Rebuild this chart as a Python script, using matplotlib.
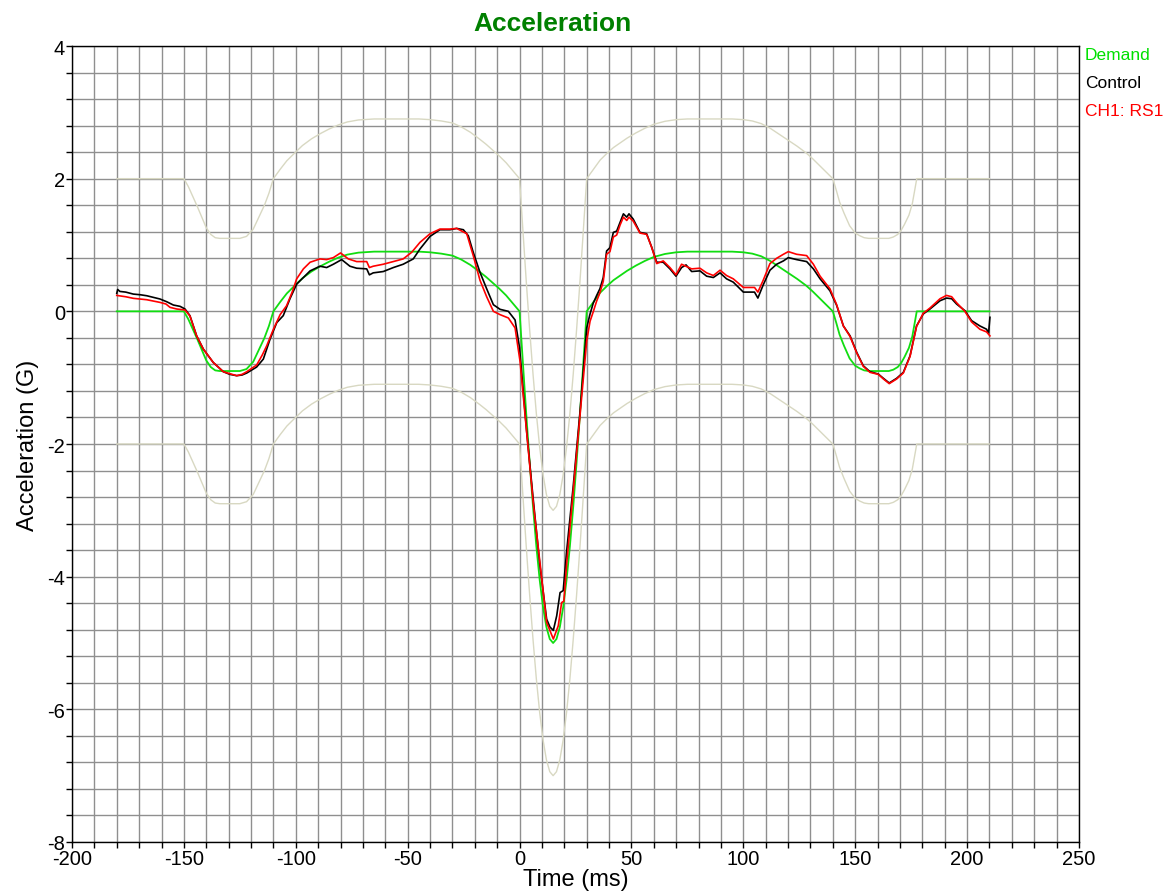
import numpy as np
import matplotlib
matplotlib.use("Agg")
from matplotlib import pyplot as plt

plt.rcParams['font.family'] = ['Liberation Sans', 'DejaVu Sans']
plt.rcParams['axes.unicode_minus'] = False

# demand profile (G)
demand_t = [-180, -150, -148, -146, -144, -142, -140, -138, -136, -134,
            -125, -122, -119, -116.5, -114, -112, -110,
            -107, -104, -101, -97, -93, -89, -85, -81, -77, -72, -65,
            -45, -40, -35, -30, -26, -22, -18, -15, -12, -9, -6, -3, 0,
            1.5, 3, 4.5, 6, 7.5, 9, 10.5, 12, 13.5, 15, 16.5, 18, 19.5, 21,
            22.5, 24, 25.5, 27, 28.5, 30,
            33, 36, 39, 42, 45, 48, 52, 56, 60, 65, 70, 75,
            95, 100, 104, 108, 112, 116, 120, 124, 128, 131, 134, 137, 140,
            141.5, 143, 145, 147.5, 150, 152, 154, 156, 165, 167, 169, 170.5,
            172, 174, 175.5, 177.5, 210]
demand_g = [0, 0, -0.12, -0.27, -0.42, -0.58, -0.74, -0.84, -0.89, -0.9,
            -0.9, -0.87, -0.76, -0.58, -0.40, -0.22, 0.0,
            0.14, 0.27, 0.37, 0.50, 0.60, 0.68, 0.75, 0.81, 0.855, 0.885, 0.9,
            0.9, 0.89, 0.87, 0.84, 0.78, 0.70, 0.60, 0.52, 0.43, 0.34, 0.24, 0.12, 0.0,
            -0.78, -1.55, -2.27, -2.94, -3.54, -4.05, -4.46, -4.76, -4.94, -5.0,
            -4.94, -4.76, -4.46, -4.05, -3.54, -2.94, -2.27, -1.55, -0.78, 0.0,
            0.14, 0.28, 0.38, 0.47, 0.54, 0.61, 0.69, 0.76, 0.82, 0.865, 0.89, 0.9,
            0.9, 0.89, 0.87, 0.83, 0.76, 0.67, 0.58, 0.49, 0.39, 0.30, 0.20, 0.10, 0.0,
            -0.17, -0.35, -0.52, -0.71, -0.82, -0.86, -0.89, -0.9, -0.9, -0.88, -0.84, -0.78,
            -0.69, -0.55, -0.38, 0.0, 0.0]

# abort limits sit a fixed 2 G either side of the demand
TOLERANCE = 2.0

control_t = [-180.0, -179.6, -178.6, -176, -172.6, -169.5, -166.6, -163.5, -160.7, -157.7,
             -154.7, -151.7, -149.5, -147.3, -144.3, -141.3, -136.9, -132.4, -129.5, -126.4,
             -124, -121.9, -117.5, -114.5, -111.5, -108.5, -105.6, -102.6, -99.6, -96.6,
             -93.6, -89.2, -86.2, -83.2, -79.5, -75.8, -72.8, -68.3, -67.1, -65.4,
             -60.9, -56.4, -52, -47.5, -44.5, -40, -35.6, -31.1, -28.1, -25.1,
             -22.9, -20.7, -17.7, -14.7, -11.7, -8.7, -5.0, -2.0, 0.0, 3.2,
             6.1, 9.1, 12.1, 13.6, 15.1, 16.6, 18.1, 19.5, 21.0, 24.0,
             27.0, 30.0, 31.5, 32.9, 34.4, 35.9, 37.4, 38.9, 40.4, 41.9,
             43.4, 44.9, 46.4, 47.9, 48.9, 50.8, 53.8, 56.8, 59.0, 61.3,
             64.2, 67.2, 69.9, 72.4, 74.4, 76.9, 80.6, 83.6, 86.6, 89.6,
             92.5, 95.5, 100, 103, 105, 106.5, 108.9, 111.9, 114.9, 117.9,
             120.1, 123.8, 128.3, 131.3, 134.3, 138.7, 141.7, 144.7, 147.7, 150.7,
             153.6, 156.6, 160.3, 162.6, 165.2, 168.5, 171.5, 174.5, 177.4, 180.4,
             183.4, 187.9, 190.8, 193.1, 195.3, 199, 202, 205.7, 208.7, 209.6, 210.2]
control_g = [0.27, 0.33, 0.30, 0.29, 0.26, 0.25, 0.235, 0.21, 0.186, 0.145,
             0.095, 0.075, 0.035, -0.065, -0.37, -0.57, -0.77, -0.91, -0.95, -0.97,
             -0.96, -0.93, -0.84, -0.72, -0.42, -0.17, -0.065, 0.19, 0.41, 0.51,
             0.61, 0.68, 0.66, 0.71, 0.78, 0.68, 0.65, 0.64, 0.55, 0.58,
             0.60, 0.66, 0.71, 0.79, 0.94, 1.13, 1.23, 1.23, 1.25, 1.23,
             1.14, 0.89, 0.59, 0.34, 0.10, 0.03, 0.0, -0.13, -0.55, -1.82,
             -2.83, -3.83, -4.64, -4.76, -4.81, -4.59, -4.24, -4.21, -3.63, -2.63,
             -1.52, -0.25, -0.04, 0.12, 0.235, 0.34, 0.51, 0.91, 0.96, 1.19,
             1.21, 1.34, 1.47, 1.42, 1.47, 1.39, 1.19, 1.17, 0.97, 0.74,
             0.74, 0.64, 0.53, 0.66, 0.70, 0.60, 0.61, 0.53, 0.51, 0.58,
             0.49, 0.44, 0.29, 0.29, 0.29, 0.20, 0.40, 0.62, 0.71, 0.76,
             0.81, 0.78, 0.75, 0.64, 0.49, 0.31, 0.09, -0.22, -0.37, -0.62,
             -0.82, -0.91, -0.945, -1.01, -1.08, -1.01, -0.92, -0.67, -0.22, -0.04,
             0.035, 0.16, 0.20, 0.19, 0.11, 0.01, -0.14, -0.22, -0.27, -0.33, -0.09]

ch1_t = [-180.0, -176, -172.6, -166.6, -160.7, -158, -156.2, -153.2, -149.5, -147.3,
         -144.3, -141.3, -136.9, -132.4, -129.5, -126.4, -124, -121.9, -117.5, -115,
         -113, -110, -107, -104.1, -101.5, -99.6, -96.6, -93.6, -89.2, -86.2,
         -83.2, -80, -76.5, -72.8, -68.3, -67.1, -65.4, -60.9, -56.4, -52,
         -48.2, -44.5, -40, -35.6, -31.1, -28.1, -23.6, -20.7, -17.7, -14.7,
         -11.7, -8.7, -5.0, -2.0, 0.2, 6.1, 12.1, 15.1, 17.3, 18.8,
         19.8, 21.0, 27.0, 30.0, 31.5, 33, 34.4, 35.9, 37.4, 38.9,
         40.4, 41.9, 43.4, 44.9, 46.4, 47.9, 48.9, 50.8, 53.8, 56.8,
         59.0, 61.3, 64.2, 67.2, 69.9, 72.4, 76.9, 80.6, 83.6, 86.6,
         89.6, 92.5, 95.5, 100, 103, 105, 106.5, 108.9, 111.9, 114.9,
         117.9, 120.1, 123.8, 128.3, 131.3, 134.3, 138.7, 141.7, 144.7, 147.7,
         150.7, 153.6, 156.6, 160.3, 162.6, 165.2, 168.5, 171.5, 174.5, 177.4,
         180.4, 183.4, 187.9, 190.8, 193.1, 195.3, 199, 202, 205.7, 208.7, 210.2]
ch1_g = [0.24, 0.22, 0.196, 0.175, 0.135, 0.11, 0.06, 0.035, 0.02, -0.07,
         -0.37, -0.57, -0.77, -0.91, -0.94, -0.97, -0.95, -0.91, -0.81, -0.66,
         -0.52, -0.27, -0.05, 0.085, 0.30, 0.49, 0.64, 0.74, 0.79, 0.78,
         0.81, 0.88, 0.79, 0.75, 0.75, 0.66, 0.68, 0.71, 0.75, 0.79,
         0.89, 1.04, 1.17, 1.24, 1.24, 1.25, 1.17, 0.84, 0.47, 0.22,
         0.0, -0.05, -0.10, -0.25, -0.75, -2.88, -4.69, -4.94, -4.74, -4.39,
         -4.37, -3.83, -1.57, -0.45, -0.15, 0.0, 0.15, 0.28, 0.45, 0.86,
         0.90, 1.12, 1.15, 1.30, 1.42, 1.37, 1.42, 1.36, 1.18, 1.16,
         0.97, 0.72, 0.76, 0.66, 0.55, 0.71, 0.64, 0.65, 0.58, 0.54,
         0.62, 0.54, 0.49, 0.36, 0.36, 0.36, 0.29, 0.47, 0.72, 0.80,
         0.86, 0.90, 0.86, 0.84, 0.71, 0.53, 0.34, 0.10, -0.22, -0.38,
         -0.63, -0.83, -0.92, -0.95, -1.02, -1.09, -1.02, -0.93, -0.68, -0.23,
         -0.03, 0.05, 0.19, 0.24, 0.22, 0.13, 0.0, -0.16, -0.27, -0.31, -0.37]

legend_labels = ["Demand", "Control", "CH1: RS1"]
legend_colors = ["#00e000", "black", "red"]

W, H = 1163, 895
fig = plt.figure(figsize=(W / 100, H / 100), dpi=100)
ax = fig.add_axes([72 / W, 1 - 843 / H, (1079 - 72) / W, (843 - 47) / H])

demand = np.array(demand_g)
upper = demand + TOLERANCE
lower = demand - TOLERANCE

ax.plot(demand_t, upper, color="#d8d8c2", lw=1.0, zorder=2)
ax.plot(demand_t, lower, color="#d8d8c2", lw=1.0, zorder=2)
ax.plot(demand_t, demand, color="#11dd11", lw=1.3, zorder=3)
ax.plot(control_t, control_g, color="black", lw=1.2, zorder=4)
ax.plot(ch1_t, ch1_g, color="#ff0000", lw=1.2, zorder=5)

ax.set_xlim(-200, 250)
ax.set_ylim(-8, 4)
ax.set_xticks(np.arange(-200, 251, 50))
ax.set_xticks(np.arange(-200, 251, 10), minor=True)
ax.set_yticks(np.arange(-8, 5, 2))
ax.set_yticks(np.arange(-8, 4.01, 0.4), minor=True)
ax.grid(which="both", color="#8f8f8f", lw=1.0)
ax.set_axisbelow(True)

ax.tick_params(which="both", direction="out", length=4, width=1, color="black",
               top=False, right=False)
ax.tick_params(which="major", labelsize=14.5, pad=1)
for s in ax.spines.values():
    s.set_color("black")
    s.set_linewidth(1)

ax.set_xlabel("Time (ms)", fontsize=17, labelpad=0)
ax.set_ylabel("Acceleration (G)", fontsize=17, labelpad=6)

fig.text(552 / W, 1 - 24 / H, "Acceleration", color="#008000", fontsize=19,
         fontweight="bold", ha="center", va="center")

for i, (lab, col) in enumerate(zip(legend_labels, legend_colors)):
    fig.text(1085 / W, 1 - (56 + 27.5 * i) / H, lab, color=col, fontsize=12.5,
             ha="left", va="center")

fig.savefig("out.png", dpi=100)
